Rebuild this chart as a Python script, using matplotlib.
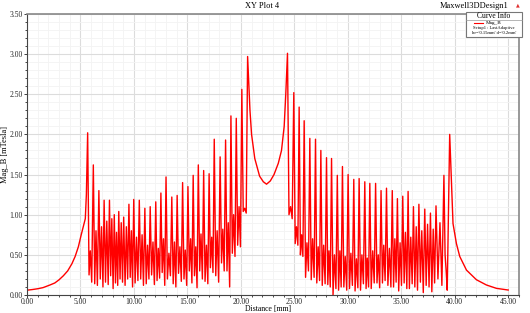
import matplotlib
matplotlib.use('Agg')
import matplotlib.pyplot as plt
from matplotlib.ticker import MultipleLocator, FormatStrFormatter
from matplotlib.lines import Line2D
from matplotlib.patches import Rectangle

# smooth rise up to the first spike
lead_x = [0.00, 0.50, 1.00, 1.50, 2.15, 2.60, 3.00, 3.40, 3.80, 4.20, 4.50, 4.80, 5.05, 5.26, 5.45, 5.55]
lead_y = [0.060, 0.068, 0.078, 0.092, 0.125, 0.150, 0.190, 0.240, 0.300, 0.390, 0.480, 0.600, 0.740, 0.850, 0.950, 1.250]

# left comb: peak, trough, small peak, trough (repeated)
left_x = [5.67, 5.80, 5.92, 6.05, 6.20, 6.33, 6.45, 6.58, 6.72, 6.85, 6.97, 7.10,
          7.21, 7.34, 7.46, 7.59, 7.71, 7.82, 7.93, 8.05, 8.16, 8.27, 8.37, 8.48,
          8.58, 8.70, 8.81, 8.93, 9.04, 9.17, 9.29, 9.41, 9.53, 9.65, 9.76, 9.87,
          9.98, 10.11, 10.24, 10.37, 10.50, 10.63, 10.76, 10.89, 11.02, 11.15, 11.27, 11.40,
          11.52, 11.65, 11.78, 11.91, 12.04, 12.16, 12.28, 12.40, 12.52, 12.64, 12.76, 12.88,
          13.00, 13.13, 13.27, 13.41, 13.54, 13.67, 13.79, 13.92, 14.04, 14.17, 14.30, 14.43,
          14.55, 14.68, 14.80, 14.93, 15.05, 15.18, 15.30, 15.42, 15.54, 15.66, 15.78, 15.90,
          16.02, 16.15, 16.27, 16.40, 16.52, 16.65, 16.78, 16.91, 17.03, 17.15, 17.27, 17.39,
          17.51, 17.65, 17.78, 17.92, 18.06, 18.19, 18.31, 18.44, 18.57, 18.70, 18.82, 18.95,
          19.07, 19.20, 19.32, 19.45, 19.57, 19.70, 19.83, 19.96, 20.09, 20.22, 20.36, 20.50]
left_y = [2.02, 0.25, 0.55, 0.16, 1.62, 0.14, 0.80, 0.12, 1.30, 0.20, 0.85, 0.10,
          1.18, 0.16, 0.92, 0.13, 1.18, 0.24, 0.95, 0.08, 1.00, 0.15, 0.78, 0.12,
          1.04, 0.20, 0.90, 0.16, 0.97, 0.12, 0.85, 0.20, 1.13, 0.22, 0.80, 0.10,
          1.19, 0.15, 0.72, 0.18, 1.18, 0.20, 0.75, 0.12, 1.08, 0.14, 0.62, 0.20,
          1.10, 0.25, 0.66, 0.13, 1.16, 0.18, 0.58, 0.21, 1.27, 0.28, 0.70, 0.12,
          1.47, 0.20, 0.52, 0.24, 1.22, 0.14, 0.66, 0.10, 1.24, 0.27, 0.60, 0.17,
          1.40, 0.20, 0.56, 0.12, 1.35, 0.30, 0.70, 0.15, 1.49, 0.24, 0.60, 0.09,
          1.62, 0.30, 0.76, 0.20, 1.55, 0.17, 0.62, 0.14, 1.51, 0.34, 0.72, 0.28,
          1.94, 0.24, 0.80, 0.16, 1.72, 0.40, 0.82, 0.30, 1.93, 0.30, 0.90, 0.10,
          2.23, 0.52, 1.00, 0.48, 2.20, 0.62, 1.10, 0.60, 2.56, 1.04, 1.08, 1.02]

# the dip between the two big spikes
valley_x = [20.63, 20.85, 21.00, 21.30, 21.75, 22.10, 22.40, 22.75, 23.10, 23.50, 23.80, 24.05, 24.20]
valley_y = [2.97, 2.30, 2.00, 1.70, 1.48, 1.41, 1.38, 1.42, 1.50, 1.64, 1.80, 2.10, 2.50]

# right comb
right_x = [24.36, 24.50, 24.65, 24.80, 24.95, 25.08, 25.20, 25.33, 25.45, 25.57, 25.68, 25.80,
           25.92, 26.05, 26.18, 26.32, 26.45, 26.58, 26.71, 26.85, 26.98, 27.10, 27.23, 27.36,
           27.48, 27.61, 27.74, 27.88, 28.01, 28.13, 28.24, 28.36, 28.48, 28.62, 28.75, 28.89,
           29.02, 29.14, 29.26, 29.38, 29.50, 29.63, 29.76, 29.90, 30.03, 30.16, 30.29, 30.43,
           30.56, 30.68, 30.81, 30.94, 31.06, 31.19, 31.32, 31.46, 31.59, 31.71, 31.82, 31.94,
           32.06, 32.19, 32.33, 32.47, 32.60, 32.73, 32.85, 32.98, 33.11, 33.24, 33.36, 33.49,
           33.62, 33.75, 33.89, 34.03, 34.16, 34.28, 34.40, 34.52, 34.64, 34.76, 34.89, 35.02,
           35.14, 35.27, 35.39, 35.52, 35.64, 35.76, 35.89, 36.02, 36.14, 36.27, 36.40, 36.52,
           36.65, 36.79, 36.92, 37.06, 37.20, 37.33, 37.46, 37.60, 37.73, 37.86, 37.99, 38.12,
           38.25, 38.43, 38.62, 38.80, 38.99, 39.10, 39.20, 39.30]
right_y = [3.01, 1.00, 1.10, 0.95, 2.52, 0.64, 0.85, 0.62, 2.34, 0.50, 0.75, 0.48,
           2.17, 0.22, 0.65, 0.30, 1.95, 0.19, 0.70, 0.22, 1.94, 0.15, 0.60, 0.18,
           1.80, 0.12, 0.62, 0.14, 1.71, 0.13, 0.55, 0.10, 1.70, 0.00, 0.50, 0.08,
           1.49, 0.06, 0.55, 0.10, 1.60, 0.10, 0.48, 0.06, 1.50, 0.08, 0.52, 0.12,
           1.44, 0.05, 0.45, 0.09, 1.45, 0.06, 0.50, 0.14, 1.41, 0.08, 0.46, 0.10,
           1.39, 0.08, 0.55, 0.15, 1.39, 0.15, 0.50, 0.09, 1.30, 0.15, 0.62, 0.18,
           1.33, 0.12, 0.58, 0.10, 1.30, 0.10, 0.70, 0.16, 1.20, 0.05, 0.65, 0.12,
           1.23, 0.15, 0.78, 0.08, 1.29, 0.08, 0.72, 0.14, 1.10, 0.10, 0.85, 0.06,
           1.13, 0.16, 0.80, 0.03, 1.07, 0.12, 0.88, 0.10, 1.02, 0.04, 0.82, 0.15,
           1.11, 0.20, 0.90, 0.12, 1.49, 0.50, 0.30, 0.06]

# decay after the last spike
tail_x = [39.53, 39.70, 39.84, 40.16, 40.47, 41.10, 42.03, 42.96, 43.90, 45.00]
tail_y = [2.00, 1.39, 0.89, 0.64, 0.48, 0.31, 0.19, 0.125, 0.083, 0.062]

dist = lead_x + left_x + valley_x + right_x + tail_x
mag_b = lead_y + left_y + valley_y + right_y + tail_y

serif = ['Liberation Serif', 'DejaVu Serif']

fig = plt.figure(figsize=(5.3, 3.13), dpi=100, facecolor='white')
ax = fig.add_axes([0.051, 0.0575, 0.928, 0.898])

ax.plot(dist, mag_b, color='#ff0000', lw=1.0)

ax.set_xlim(0, 46)
ax.set_ylim(0, 3.5)
ax.xaxis.set_major_locator(MultipleLocator(5))
ax.xaxis.set_minor_locator(MultipleLocator(1))
ax.yaxis.set_major_locator(MultipleLocator(0.5))
ax.yaxis.set_minor_locator(MultipleLocator(0.1))
ax.xaxis.set_major_formatter(FormatStrFormatter('%.2f'))
ax.yaxis.set_major_formatter(FormatStrFormatter('%.2f'))
ax.grid(which='major', color='#dcdcdc', lw=0.8)
ax.grid(which='minor', color='#f3f3f3', lw=0.6)
ax.set_axisbelow(True)
ax.tick_params(which='major', direction='out', length=2.5, width=0.6, pad=0.8, labelsize=5.5, colors='#222222')
ax.tick_params(axis='x', which='major', pad=-0.6)
ax.tick_params(which='minor', direction='out', length=1.6, width=0.5)
for lab in ax.get_xticklabels() + ax.get_yticklabels():
    lab.set_family(serif)

for side in ['left', 'bottom']:
    ax.spines[side].set_color('#444444')
    ax.spines[side].set_linewidth(0.8)
for side in ['top', 'right']:
    ax.spines[side].set_color('#888888')
    ax.spines[side].set_linewidth(1.2)

ax.set_xlabel('Distance [mm]', family=serif, fontsize=5.6, va='bottom')
ax.set_ylabel('Mag_B [mTesla]', family=serif, fontsize=6)
ax.xaxis.set_label_coords(0.49, -0.063)
ax.yaxis.set_label_coords(-0.037, 0.5)

fig.text(0.495, 0.982, 'XY Plot 4', family=serif, fontsize=6, ha='center', va='center')
fig.text(0.895, 0.982, 'Maxwell3DDesign1', family=serif, fontsize=6, ha='center', va='center')
fig.text(0.978, 0.984, '\u25b2', color='#e03030', fontsize=3.5, ha='center', va='center')

# curve info box
box = Rectangle((0.880, 0.882), 0.105, 0.081, transform=fig.transFigure,
                facecolor='white', edgecolor='#777777', lw=0.8, zorder=5)
fig.patches.append(box)
fig.text(0.932, 0.948, 'Curve Info', family=serif, fontsize=5.5, ha='center', va='center', zorder=6)
fig.add_artist(Line2D([0.880, 0.985], [0.936, 0.936], transform=fig.transFigure, color='#999999', lw=0.5, zorder=6))
fig.add_artist(Line2D([0.894, 0.911], [0.927, 0.927], transform=fig.transFigure, color='#ff0000', lw=0.8, zorder=6))
fig.text(0.917, 0.927, 'Mag_B', family=serif, fontsize=3.8, ha='left', va='center', zorder=6)
fig.text(0.932, 0.910, 'Setup1 : LastAdaptive', family=serif, fontsize=3.3, ha='center', va='center', zorder=6)
fig.text(0.932, 0.894, "hr='0.15mm' d='0.2mm'", family=serif, fontsize=3.3, ha='center', va='center', zorder=6)

fig.savefig('out.png', dpi=100, facecolor='white')
